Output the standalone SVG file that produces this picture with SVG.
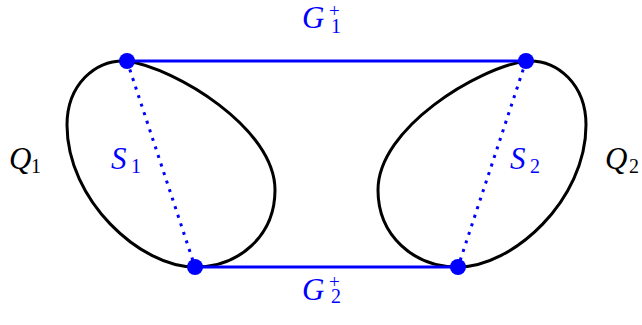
<svg xmlns="http://www.w3.org/2000/svg" width="642" height="325" viewBox="0 0 642 325">
<style>
.shape{fill:none;stroke:#000;stroke-width:3}
.edge{stroke:#0000ff;stroke-width:3;fill:none}
.chord{stroke:#0000ff;stroke-width:3;fill:none;stroke-dasharray:3 6}
.dot{fill:#0000ff}
.t{font-family:"Liberation Serif",serif;font-size:31px}
.m{font-style:italic}
.s{font-size:20px;font-style:normal}
.p{font-size:19px;font-style:normal}
.b{fill:#0000ff}
</style>
<rect width="642" height="325" fill="#fff"/>
<g id="Q1">
<path class="shape" d="M127,61 C175,68 275,128 275,190 C275,235 240,267 195,267 C140,267 67,200 67,125 C67,85 95,59 127,61 Z"/>
<text class="t" x="9" y="169"><tspan class="m">Q</tspan><tspan class="s" x="31" dy="4">1</tspan></text>
</g>
<g id="Q2">
<path class="shape" transform="translate(653,0) scale(-1,1)" d="M127,61 C175,68 275,128 275,190 C275,235 240,267 195,267 C140,267 67,200 67,125 C67,85 95,59 127,61 Z"/>
<text class="t" x="605" y="169"><tspan class="m">Q</tspan><tspan class="s" x="629" dy="4">2</tspan></text>
</g>
<g id="connectors">
<line class="edge" x1="127" y1="61" x2="526" y2="61"/>
<line class="edge" x1="195" y1="267" x2="458" y2="267"/>
<line class="chord" x1="127" y1="61" x2="195" y2="267"/>
<line class="chord" x1="526" y1="61" x2="458" y2="267"/>
</g>
<g id="S1"><text class="t b" x="111" y="169"><tspan class="m">S</tspan><tspan class="s" x="131" dy="4">1</tspan></text></g>
<g id="S2"><text class="t b" x="510" y="169"><tspan class="m">S</tspan><tspan class="s" x="530" dy="4">2</tspan></text></g>
<g id="G1"><text class="t b" x="302" y="28"><tspan class="m">G</tspan><tspan class="p" x="329" dy="-11">+</tspan><tspan class="s" x="331" dy="16">1</tspan></text></g>
<g id="G2"><text class="t b" x="302" y="300"><tspan class="m">G</tspan><tspan class="p" x="329" dy="-12">+</tspan><tspan class="s" x="331" dy="15">2</tspan></text></g>
<g id="v1"><circle class="dot" cx="127" cy="61" r="8"/></g>
<g id="v2"><circle class="dot" cx="526" cy="61" r="8"/></g>
<g id="v3"><circle class="dot" cx="195" cy="267" r="8"/></g>
<g id="v4"><circle class="dot" cx="458" cy="267" r="8"/></g>
</svg>
